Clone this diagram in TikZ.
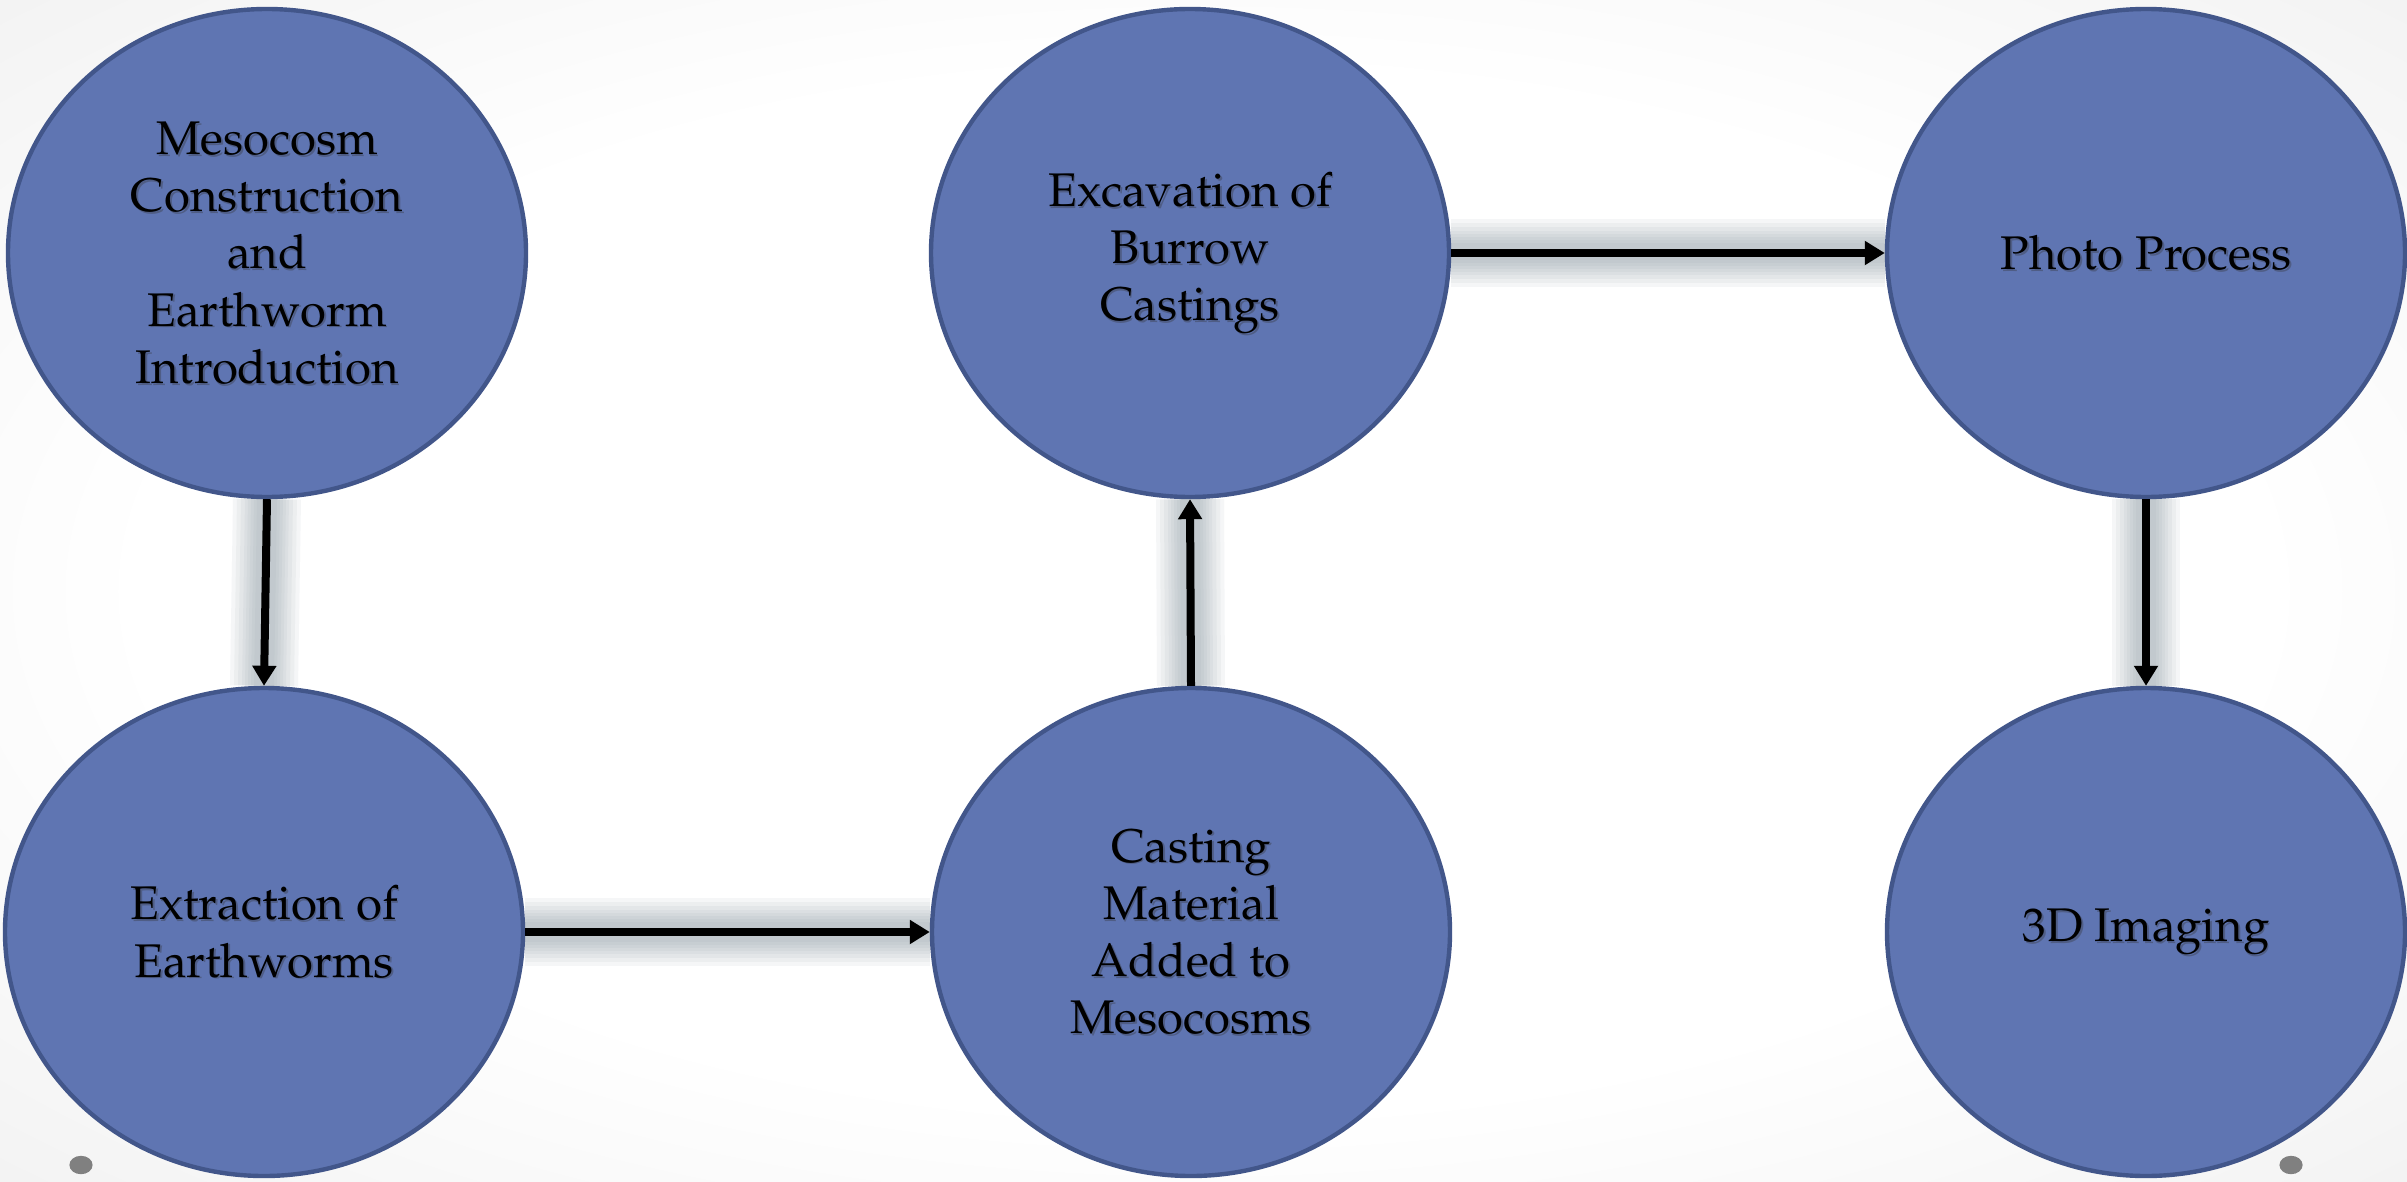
\documentclass[tikz,border=0pt]{standalone}
\usepackage[T1]{fontenc}
\usepackage{mathpazo}
\usetikzlibrary{arrows.meta,shapes.geometric}
\definecolor{stagefill}{HTML}{5F75B2}
\definecolor{stageline}{HTML}{42568A}
\definecolor{glowcol}{HTML}{8E9CA5}
\definecolor{dotc}{HTML}{808080}
\pgfdeclareradialshading{bgshade}{\pgfpoint{0bp}{0bp}}{color(0bp)=(white); color(22bp)=(white); color(50bp)=(black!10); color(72bp)=(black!18)}
\pgfdeclarelayer{bg}
\pgfsetlayers{bg,main}
\newcommand{\stagefont}{\fontsize{23.6}{28.6}\selectfont}
\tikzset{
  stage/.style={ellipse, draw=stageline, line width=2.2pt, fill=stagefill,
    minimum width=259pt, minimum height=244pt, inner sep=0pt,
    align=center, font=\stagefont, text=black},
  shadowtext/.style={align=center, font=\stagefont, text=black!80, opacity=0.35,
    inner sep=0pt, draw=none, fill=none},
  flow/.style={draw=black, line width=4pt, line cap=butt,
    -{Triangle[width=11.5pt,length=10pt]}},
  glowline/.style={draw=glowcol, opacity=0.085, line cap=butt},
}
\newcommand{\stagenode}[3]{%
  \node[stage, path picture={\node[shadowtext] (#1-sh) at ([shift={(0.9pt,-0.9pt)}]path picture bounding box.center) {#3};}] (#1) at (#2) {#3};}
\newcommand{\glowpath}[2]{%
  \foreach \w in {34,30,26,22,19,16,13,10}{\draw[glowline, line width=\w pt] (#1) -- (#2);}}
\begin{document}
\begin{tikzpicture}[x=0.5pt,y=-0.5pt]
\useasboundingbox (0,0) rectangle (2407,1182);

% stages
\stagenode{e1}{267,253}{Mesocosm\\Construction\\and\\Earthworm\\Introduction}
\stagenode{e2}{264,932}{Extraction of\\Earthworms}
\stagenode{e3}{1190,253}{Excavation of\\Burrow\\Castings}
\stagenode{e4}{1191,932}{Casting\\Material\\Added to\\Mesocosms}
\stagenode{e5}{2146,253}{Photo Process}
\stagenode{e6}{2146,932}{3D Imaging}

\begin{pgfonlayer}{bg}
  \shade[shading=bgshade] (0,0) rectangle (2407,1182);
  \glowpath{e1.south}{e2.north}
  \glowpath{e2.east}{e4.west}
  \glowpath{e4.north}{e3.south}
  \glowpath{e3.east}{e5.west}
  \glowpath{e5.south}{e6.north}
\end{pgfonlayer}

% connectors
\draw[flow] (e1.south) -- (e2.north);
\draw[flow] (e2.east) -- (e4.west);
\draw[flow] (e4.north) -- (e3.south);
\draw[flow] (e3.east) -- (e5.west);
\draw[flow] (e5.south) -- (e6.north);

% corner dots
\fill[dotc] (81,1165) ellipse [x radius=5.8pt, y radius=4.6pt];
\fill[dotc] (2291,1165) ellipse [x radius=5.8pt, y radius=4.6pt];
\end{tikzpicture}
\end{document}
